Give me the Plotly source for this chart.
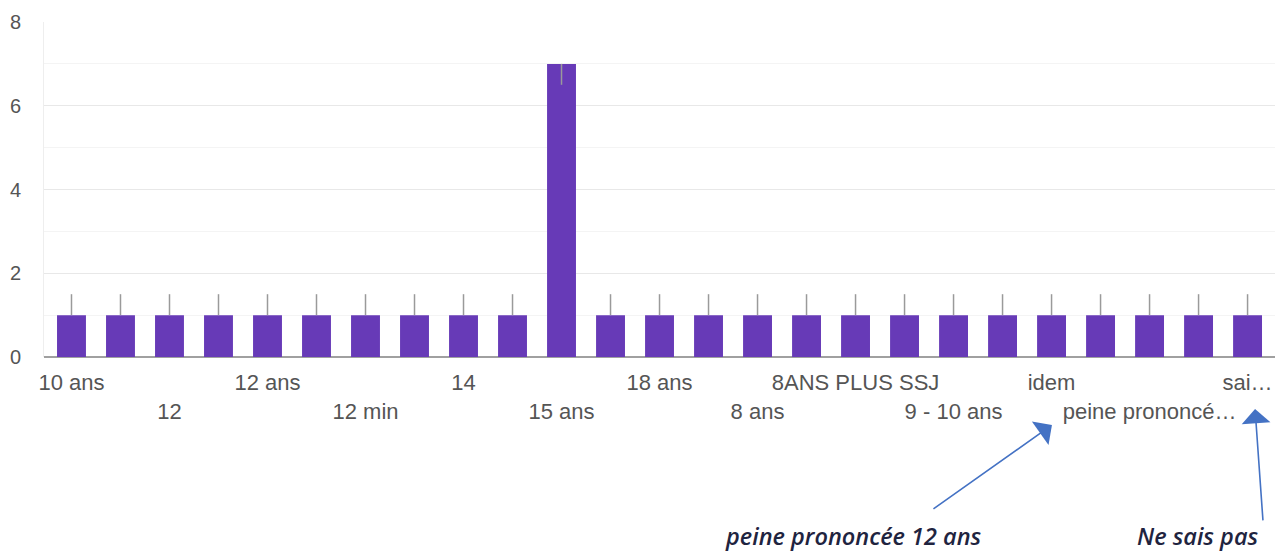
import plotly.graph_objects as go

# Answers (distinct responses) and their counts
categories = [
    "10 ans", "10 ans ferme", "12", "12 ANS", "12 ans", "12 ans ferme",
    "12 min", "13 ans", "14", "14 ans", "15 ans", "16 ans", "18 ans",
    "20 ans", "8 ans", "8 ans ferme", "8ANS PLUS SSJ", "9 ans", "9 - 10 ans",
    "entre 10 et 12 ans", "idem", "je ne sais pas", "peine prononcée 12 ans",
    "pas d'idée", "sais pas",
]
counts = [1, 1, 1, 1, 1, 1, 1, 1, 1, 1, 7, 1, 1, 1, 1, 1, 1, 1, 1, 1, 1, 1, 1, 1, 1]
interval_up = [0.5 if c == 1 else 0 for c in counts]
interval_down = [0.5 if c > 1 else 0 for c in counts]

# Only every other answer gets an axis label, alternating on two rows
label_idx = list(range(0, len(categories), 2))
label_text = [
    "10 ans", "12", "12 ans", "12 min", "14", "15 ans", "18 ans",
    "8 ans", "8ANS PLUS SSJ", "9 - 10 ans", "idem", "peine prononcé…", "sai…",
]

y_ticks = [0, 2, 4, 6, 8]

ticktext = [t if k % 2 == 0 else "<br>" + t for k, t in enumerate(label_text)]

fig = go.Figure()
fig.add_trace(go.Bar(
    x=list(range(len(categories))),
    y=counts,
    customdata=categories,
    hovertemplate="%{customdata}: %{y}<extra></extra>",
    marker=dict(color="#673ab7", line=dict(width=0)),
    error_y=dict(type="data", symmetric=False, array=interval_up,
                 arrayminus=interval_down, width=0, color="#9a9a9a", thickness=1.5),
))

fig.update_layout(
    width=1275, height=553,
    margin=dict(l=44, r=0, t=22, b=196),
    paper_bgcolor="white", plot_bgcolor="white",
    bargap=0.41,
    showlegend=False,
    font=dict(family="Arial", color="#555555", size=20),
    xaxis=dict(
        range=[-0.561, 24.56],
        tickmode="array", tickvals=label_idx, ticktext=ticktext,
        tickangle=0, ticklabelstandoff=10,
        showgrid=False, zeroline=False, showline=False, ticks="",
        tickfont=dict(family="Arial", size=22, color="#555555"),
    ),
    yaxis=dict(
        range=[0, 8], tickmode="array", tickvals=y_ticks,
        gridcolor="#e8e8e8", gridwidth=1,
        minor=dict(dtick=1, showgrid=True, gridcolor="#f4f4f4", gridwidth=1),
        zeroline=True, zerolinecolor="#a0a0a0", zerolinewidth=2,
        showline=True, linecolor="#eeeeee", linewidth=1,
        ticks="", ticklabelstandoff=18,
        tickfont=dict(family="Arial", size=20, color="#555555"),
    ),
)

# Callouts pointing to two of the truncated labels
arrow_color = "#4472c4"
fig.add_annotation(x=0.8188, y=-0.203, xref="paper", yref="paper",
                   ax=-120, ay=85, axref="pixel", ayref="pixel",
                   text="", showarrow=True, arrowhead=1, arrowsize=3,
                   arrowwidth=1.6, arrowcolor=arrow_color)
fig.add_annotation(x=0.9838, y=-0.155, xref="paper", yref="paper",
                   ax=8, ay=113, axref="pixel", ayref="pixel",
                   text="", showarrow=True, arrowhead=1, arrowsize=3,
                   arrowwidth=1.6, arrowcolor=arrow_color)
callout_font = dict(family="Open Sans", size=23.5, color="#1f2440", weight=600)
fig.add_annotation(x=(853 - 44) / 1231, y=(357 - 553) / 335, xref="paper", yref="paper",
                   text="<i>peine prononcée 12 ans</i>", showarrow=False,
                   font=callout_font, xanchor="center", yanchor="bottom",
                   borderpad=0)
fig.add_annotation(x=(1198 - 44) / 1231, y=(357 - 553) / 335, xref="paper", yref="paper",
                   text="<i>Ne sais pas</i>", showarrow=False,
                   font=callout_font, xanchor="center", yanchor="bottom",
                   borderpad=0)

fig.write_html("out.html")
